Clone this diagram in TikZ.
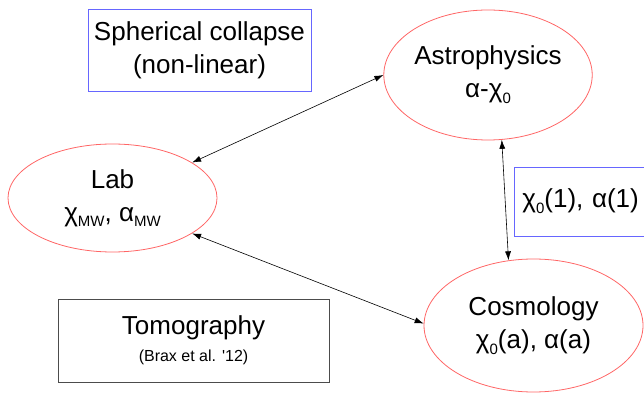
\documentclass[tikz,border=0pt]{standalone}
\usepackage{fontspec}
\setmainfont{Liberation Sans}
\usepackage{tikz}
\usetikzlibrary{arrows.meta, shapes.geometric}
\colorlet{ovalred}{red!60!white}
\colorlet{boxblue}{blue!60!white}
\colorlet{boxgray}{black!70}
\newcommand{\lowtext}[1]{\raisebox{-0.22em}{\fontsize{15}{15}\selectfont #1}}

\begin{document}
\begin{tikzpicture}[x=1pt, y=1pt, >={Latex[length=9pt, width=6pt]},
    every node/.style={font=\fontsize{26}{33}\selectfont, align=center},
    oval/.style={ellipse, draw=ovalred, line width=0.8pt, inner sep=0pt},
    bluebox/.style={rectangle, draw=boxblue, line width=0.8pt, inner sep=0pt},
    graybox/.style={rectangle, draw=boxgray, line width=0.8pt, inner sep=0pt},
    link/.style={<->, line width=0.6pt}]
    \clip (0, 0) rectangle (644, 393);

    \node[bluebox, minimum width=223pt, minimum height=82pt] (spherical) at (199.5, 343) {Spherical collapse\\(non-linear)};
    \node[graybox, minimum width=271pt, minimum height=83pt] (tomo) at (193.5, 52.5) {Tomography\\[-6pt]{\fontsize{16}{19}\selectfont (Brax et al. \textquotesingle12)}};

    \node[oval, minimum width=206pt, minimum height=130pt] (astro) at (488, 318) {Astrophysics\\α-χ\lowtext{0}};
    \node[oval, minimum width=209pt, minimum height=108pt] (lab) at (112.5, 195) {Lab\\χ\lowtext{MW}, α\lowtext{MW}};
    \node[oval, minimum width=219pt, minimum height=133pt] (cosmo) at (533.5, 67.5) {Cosmology\\χ\lowtext{0}(a), α(a)};

    \node[bluebox, anchor=west, minimum height=69pt, text width=140pt, align=left, inner xsep=8pt] (today) at (514, 191.5) {χ\lowtext{0}(1), α(1)};

    \draw[link] (lab.24) -- (astro.180);
    \draw[link] (lab.-24) -- (cosmo.179);
    \draw[link] (astro.-78) -- (cosmo.111);
\end{tikzpicture}
\end{document}
